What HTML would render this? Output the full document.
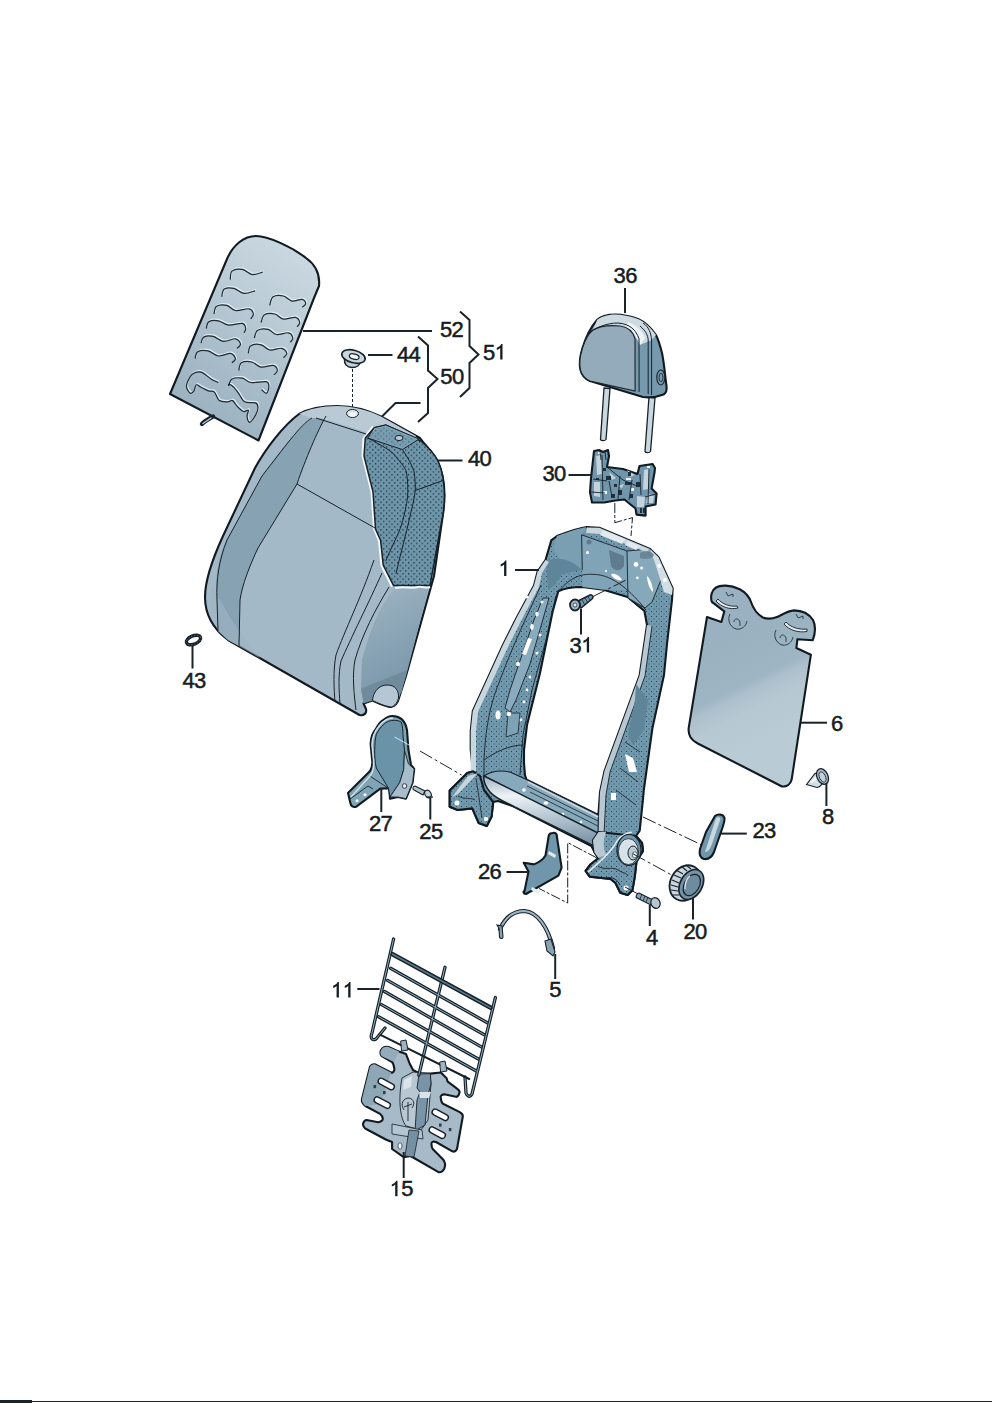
<!DOCTYPE html>
<html><head><meta charset="utf-8">
<style>
html,body{margin:0;padding:0;background:#fff;width:992px;height:1403px;overflow:hidden}
svg{display:block}
.t{font-family:"Liberation Sans",sans-serif;font-size:22px;letter-spacing:-0.6px;fill:#161c22;stroke:#161c22;stroke-width:0.5px}
.one{fill:#161c22}
.ld{stroke:#1b2228;stroke-width:2;fill:none}
.dl{stroke:#1b2228;stroke-width:1;fill:none;stroke-dasharray:14 3 3 3}
.o{stroke:#121a21;stroke-width:2.1;stroke-linejoin:round}
.th{stroke:#17212a;stroke-width:1;fill:none}
</style></head>
<body>
<svg width="992" height="1403" viewBox="0 0 992 1403">
<!--PARTS-->
<defs>
<linearGradient id="gPad" x1="0.7" y1="0" x2="0.2" y2="1">
<stop offset="0" stop-color="#cad8e0"/><stop offset="0.3" stop-color="#bccdd7"/><stop offset="0.6" stop-color="#a9bdca"/><stop offset="1" stop-color="#97afbd"/>
</linearGradient>
<linearGradient id="gBack" x1="0" y1="0" x2="0" y2="1">
<stop offset="0" stop-color="#a9bcc9"/><stop offset="1" stop-color="#a3b8c6"/>
</linearGradient>
<linearGradient id="gSide" x1="0.2" y1="0" x2="0.5" y2="1">
<stop offset="0" stop-color="#9db4c3"/><stop offset="0.5" stop-color="#88a3b4"/><stop offset="1" stop-color="#7593a6"/>
</linearGradient>
<linearGradient id="gPanel" gradientUnits="userSpaceOnUse" x1="723" y1="630" x2="777" y2="738">
<stop offset="0" stop-color="#99b1c0"/><stop offset="0.48" stop-color="#9eb5c3"/><stop offset="0.56" stop-color="#adc1cd"/><stop offset="0.7" stop-color="#b6c8d2"/><stop offset="1" stop-color="#b9cbd5"/>
</linearGradient>
<pattern id="pDots" width="5.5" height="5.5" patternUnits="userSpaceOnUse">
<rect width="5.5" height="5.5" fill="#6e96ab"/><rect x="1" y="1" width="1.1" height="1.4" fill="#0f1c24"/><rect x="3.75" y="3.75" width="1.1" height="1.4" fill="#1d2d37"/>
</pattern>
</defs>

<!-- 52 pad -->
<g id="p52">
<path class="o" stroke-width="2.2" fill="url(#gPad)" d="M170,394 L227,259 C233,245 244,236 256,236 C268,236 292,247 306,258 C316,265 320,275 319,286 L314,298 L258.5,440.5 Z"/>
<path fill="none" stroke="#17212a" stroke-width="4.4" stroke-linecap="round" d="M213,416.5 C209,419 205,421 202,424"/><path fill="none" stroke="#b9cad4" stroke-width="1.4" stroke-linecap="round" d="M211,418 L203,423.5"/>
<g stroke="#e3ecf1" stroke-width="1.3" fill="none" transform="translate(0.8,-1.2)">
<path d="M230.3,279.7 C230.6,278.3 230.0,272.8 232.0,271.1 C234.0,269.4 238.9,268.8 242.3,269.4 C245.7,270.0 249.1,274.2 252.5,274.6 C255.9,275.0 261.1,272.4 262.8,272.0"/>
<path d="M221.7,296.8 C222.1,295.5 222.3,290.5 224.3,289.1 C226.3,287.7 230.4,287.6 233.7,288.3 C237.0,289.0 240.4,293.0 244.0,293.4 C247.6,293.8 253.2,291.2 255.1,290.8"/>
<path d="M214.0,314.0 C214.4,312.7 214.5,307.7 216.6,306.3 C218.7,304.9 223.7,304.7 226.8,305.4 C229.9,306.1 231.7,309.9 235.4,310.5 C239.1,311.1 246.1,308.2 249.1,308.8 C252.1,309.4 253.1,312.3 253.4,314.0 C253.7,315.7 251.2,318.2 250.8,319.1"/>
<path d="M206.3,328.5 C206.7,327.4 206.8,323.0 208.8,321.7 C210.8,320.4 215.0,320.2 218.3,320.8 C221.6,321.4 224.6,324.7 228.6,325.1 C232.6,325.5 239.5,322.8 242.3,323.4 C245.2,324.0 245.4,326.9 245.7,328.5 C246.0,330.1 244.3,332.1 244.0,332.8"/>
<path d="M201.1,343.1 C201.5,342.1 201.7,338.2 203.7,337.1 C205.7,336.0 209.8,335.6 213.1,336.3 C216.4,337.0 219.7,341.0 223.4,341.4 C227.1,341.8 232.6,338.4 235.4,338.8 C238.2,339.2 240.2,342.4 240.5,344.0 C240.8,345.6 237.7,347.6 237.1,348.3"/>
<path d="M195.1,358.5 C195.5,357.4 195.5,353.0 197.7,351.7 C199.8,350.4 204.6,350.1 208.0,350.8 C211.4,351.5 214.6,355.6 218.3,356.0 C222.0,356.4 227.5,353.0 230.3,353.4 C233.2,353.8 235.1,356.9 235.4,358.5 C235.7,360.1 232.6,362.1 232.0,362.8"/>
<path d="M269.7,305.4 C270.3,304.0 270.8,298.4 273.1,296.8 C275.4,295.2 280.2,295.3 283.4,296.0 C286.5,296.7 288.9,300.5 292.0,301.1 C295.1,301.7 299.9,299.0 302.2,299.4 C304.5,299.8 305.7,302.4 305.7,303.7 C305.7,305.0 302.8,306.5 302.2,307.1"/>
<path d="M261.1,322.5 C261.7,321.2 262.2,316.2 264.5,314.8 C266.8,313.4 271.7,313.3 274.8,314.0 C277.9,314.7 280.0,318.5 283.4,319.1 C286.8,319.7 292.7,316.8 295.4,317.4 C298.1,318.0 299.4,320.9 299.7,322.5 C300.0,324.1 297.5,326.1 297.1,326.8"/>
<path d="M254.3,338.0 C254.9,336.7 255.4,331.7 257.7,330.3 C260.0,328.9 264.9,328.7 268.0,329.4 C271.1,330.1 273.1,333.9 276.5,334.5 C279.9,335.1 285.8,332.2 288.5,332.8 C291.2,333.4 292.5,336.4 292.8,338.0 C293.1,339.6 290.7,341.6 290.3,342.3"/>
<path d="M248.3,353.4 C248.7,352.1 248.7,347.1 250.8,345.7 C252.9,344.3 258.0,344.1 261.1,344.8 C264.2,345.5 266.3,349.4 269.7,350.0 C273.1,350.6 278.8,347.7 281.7,348.3 C284.6,348.9 286.5,351.8 286.8,353.4 C287.1,355.0 284.0,357.0 283.4,357.7"/>
<path d="M238.8,370.5 C239.2,369.2 239.2,364.2 241.4,362.8 C243.6,361.4 248.4,361.3 251.7,362.0 C255.0,362.7 257.5,366.5 261.1,367.1 C264.7,367.7 270.4,364.8 273.1,365.4 C275.8,366.0 277.2,368.9 277.4,370.5 C277.5,372.1 274.6,374.1 274.0,374.8"/>
<path d="M218.3,382.5 C217.2,381.9 214.3,380.9 211.4,379.2 C208.5,377.5 204.2,373.1 201.1,372.2 C198.0,371.3 194.9,372.4 192.6,374.0 C190.3,375.6 188.5,379.8 187.5,382.0 C186.5,384.2 186.2,385.4 186.6,387.3 C187.0,389.2 189.0,392.7 190.2,393.3 C191.4,393.9 192.9,392.3 193.9,390.9 C194.9,389.5 195.1,385.4 196.3,384.8 C197.5,384.2 199.1,386.3 201.1,387.3 C203.1,388.3 206.2,390.1 208.4,390.9 C210.6,391.7 212.6,390.5 214.4,392.1 C216.2,393.7 217.1,399.0 219.3,400.6 C221.5,402.2 225.5,401.8 227.7,401.8 C229.9,401.8 231.0,399.8 232.6,400.6 C234.2,401.4 235.6,404.8 237.4,406.6 C239.2,408.4 241.7,410.9 243.5,411.5 C245.3,412.1 247.7,409.4 248.3,410.2 C248.9,411.0 246.9,414.3 247.1,416.3 C247.3,418.3 248.1,422.5 249.5,422.3 C250.9,422.1 254.2,417.5 255.6,415.1 C257.0,412.7 258.0,409.8 258.0,407.8 C258.0,405.8 257.8,403.9 255.6,402.9 C253.4,401.9 247.5,403.4 244.7,401.8 C241.9,400.2 240.4,395.7 238.6,393.3 C236.8,390.9 235.4,388.9 233.8,387.3 C232.2,385.8 229.9,384.2 229.0,384.0 C228.1,383.8 228.7,385.7 228.6,386.0"/>
<path d="M228.6,386.0 C229.2,384.9 229.7,380.4 232.0,379.1 C234.3,377.8 239.2,377.6 242.3,378.2 C245.4,378.8 246.8,381.9 250.8,382.5 C254.8,383.1 263.3,380.9 266.3,381.7 C269.3,382.5 268.9,385.4 268.9,387.3 C268.9,389.2 267.6,392.9 266.4,393.3 C265.2,393.7 262.4,390.3 261.6,389.7"/>
</g>
<g stroke="#1d2a33" stroke-width="1.2" fill="none">
<path d="M230.3,279.7 C230.6,278.3 230.0,272.8 232.0,271.1 C234.0,269.4 238.9,268.8 242.3,269.4 C245.7,270.0 249.1,274.2 252.5,274.6 C255.9,275.0 261.1,272.4 262.8,272.0"/>
<path d="M221.7,296.8 C222.1,295.5 222.3,290.5 224.3,289.1 C226.3,287.7 230.4,287.6 233.7,288.3 C237.0,289.0 240.4,293.0 244.0,293.4 C247.6,293.8 253.2,291.2 255.1,290.8"/>
<path d="M214.0,314.0 C214.4,312.7 214.5,307.7 216.6,306.3 C218.7,304.9 223.7,304.7 226.8,305.4 C229.9,306.1 231.7,309.9 235.4,310.5 C239.1,311.1 246.1,308.2 249.1,308.8 C252.1,309.4 253.1,312.3 253.4,314.0 C253.7,315.7 251.2,318.2 250.8,319.1"/>
<path d="M206.3,328.5 C206.7,327.4 206.8,323.0 208.8,321.7 C210.8,320.4 215.0,320.2 218.3,320.8 C221.6,321.4 224.6,324.7 228.6,325.1 C232.6,325.5 239.5,322.8 242.3,323.4 C245.2,324.0 245.4,326.9 245.7,328.5 C246.0,330.1 244.3,332.1 244.0,332.8"/>
<path d="M201.1,343.1 C201.5,342.1 201.7,338.2 203.7,337.1 C205.7,336.0 209.8,335.6 213.1,336.3 C216.4,337.0 219.7,341.0 223.4,341.4 C227.1,341.8 232.6,338.4 235.4,338.8 C238.2,339.2 240.2,342.4 240.5,344.0 C240.8,345.6 237.7,347.6 237.1,348.3"/>
<path d="M195.1,358.5 C195.5,357.4 195.5,353.0 197.7,351.7 C199.8,350.4 204.6,350.1 208.0,350.8 C211.4,351.5 214.6,355.6 218.3,356.0 C222.0,356.4 227.5,353.0 230.3,353.4 C233.2,353.8 235.1,356.9 235.4,358.5 C235.7,360.1 232.6,362.1 232.0,362.8"/>
<path d="M269.7,305.4 C270.3,304.0 270.8,298.4 273.1,296.8 C275.4,295.2 280.2,295.3 283.4,296.0 C286.5,296.7 288.9,300.5 292.0,301.1 C295.1,301.7 299.9,299.0 302.2,299.4 C304.5,299.8 305.7,302.4 305.7,303.7 C305.7,305.0 302.8,306.5 302.2,307.1"/>
<path d="M261.1,322.5 C261.7,321.2 262.2,316.2 264.5,314.8 C266.8,313.4 271.7,313.3 274.8,314.0 C277.9,314.7 280.0,318.5 283.4,319.1 C286.8,319.7 292.7,316.8 295.4,317.4 C298.1,318.0 299.4,320.9 299.7,322.5 C300.0,324.1 297.5,326.1 297.1,326.8"/>
<path d="M254.3,338.0 C254.9,336.7 255.4,331.7 257.7,330.3 C260.0,328.9 264.9,328.7 268.0,329.4 C271.1,330.1 273.1,333.9 276.5,334.5 C279.9,335.1 285.8,332.2 288.5,332.8 C291.2,333.4 292.5,336.4 292.8,338.0 C293.1,339.6 290.7,341.6 290.3,342.3"/>
<path d="M248.3,353.4 C248.7,352.1 248.7,347.1 250.8,345.7 C252.9,344.3 258.0,344.1 261.1,344.8 C264.2,345.5 266.3,349.4 269.7,350.0 C273.1,350.6 278.8,347.7 281.7,348.3 C284.6,348.9 286.5,351.8 286.8,353.4 C287.1,355.0 284.0,357.0 283.4,357.7"/>
<path d="M238.8,370.5 C239.2,369.2 239.2,364.2 241.4,362.8 C243.6,361.4 248.4,361.3 251.7,362.0 C255.0,362.7 257.5,366.5 261.1,367.1 C264.7,367.7 270.4,364.8 273.1,365.4 C275.8,366.0 277.2,368.9 277.4,370.5 C277.5,372.1 274.6,374.1 274.0,374.8"/>
<path d="M218.3,382.5 C217.2,381.9 214.3,380.9 211.4,379.2 C208.5,377.5 204.2,373.1 201.1,372.2 C198.0,371.3 194.9,372.4 192.6,374.0 C190.3,375.6 188.5,379.8 187.5,382.0 C186.5,384.2 186.2,385.4 186.6,387.3 C187.0,389.2 189.0,392.7 190.2,393.3 C191.4,393.9 192.9,392.3 193.9,390.9 C194.9,389.5 195.1,385.4 196.3,384.8 C197.5,384.2 199.1,386.3 201.1,387.3 C203.1,388.3 206.2,390.1 208.4,390.9 C210.6,391.7 212.6,390.5 214.4,392.1 C216.2,393.7 217.1,399.0 219.3,400.6 C221.5,402.2 225.5,401.8 227.7,401.8 C229.9,401.8 231.0,399.8 232.6,400.6 C234.2,401.4 235.6,404.8 237.4,406.6 C239.2,408.4 241.7,410.9 243.5,411.5 C245.3,412.1 247.7,409.4 248.3,410.2 C248.9,411.0 246.9,414.3 247.1,416.3 C247.3,418.3 248.1,422.5 249.5,422.3 C250.9,422.1 254.2,417.5 255.6,415.1 C257.0,412.7 258.0,409.8 258.0,407.8 C258.0,405.8 257.8,403.9 255.6,402.9 C253.4,401.9 247.5,403.4 244.7,401.8 C241.9,400.2 240.4,395.7 238.6,393.3 C236.8,390.9 235.4,388.9 233.8,387.3 C232.2,385.8 229.9,384.2 229.0,384.0 C228.1,383.8 228.7,385.7 228.6,386.0"/>
<path d="M228.6,386.0 C229.2,384.9 229.7,380.4 232.0,379.1 C234.3,377.8 239.2,377.6 242.3,378.2 C245.4,378.8 246.8,381.9 250.8,382.5 C254.8,383.1 263.3,380.9 266.3,381.7 C269.3,382.5 268.9,385.4 268.9,387.3 C268.9,389.2 267.6,392.9 266.4,393.3 C265.2,393.7 262.4,390.3 261.6,389.7"/>
</g>
</g>
<!-- 40 seat back -->
<g id="p40">
<path class="o" fill="#a4b9c7" d="M337,406 C322,406 308,409 299,414 C284,425 266,448 255,468 L223,536 C212,560 205,580 205,597 C205,614 212,628 228,640 L359.5,715 C364,716 367,713 366,709 L363.5,703.5 L372.5,700.5 C380,704 386,707 391,707 C396,706 398,702 399,698 L406,676 L434,576 L443,514 C446,494 444,474 437,460 C431,450 425,445 420,438 L382,417 C368,410 353,406 337,406 Z"/>
<!-- left bolster darker -->
<path fill="#87a2b3" d="M318,415 C300,425 282,448 262,476 L226,541 C217,560 215,580 217,600 L218,631 L228,640 L239,646 L240,600 C242,585 250,565 258,548 L297,484 C305,460 318,430 326,416 Z"/>
<path fill="#9fb4c2" d="M212,585 C208,610 212,628 228,640 L260,658 C245,640 230,620 212,585 Z" opacity="0.6"/>
<!-- light top band -->
<path fill="#b9cad4" d="M299,414 C308,409 322,406 337,406 C353,406 368,410 382,417 L416,436 L410,452 C395,444 370,432 340,424 C330,420 320,418 312,418 Z"/>
<!-- right bolster -->
<path fill="url(#gSide)" d="M394,589 L429,587 L406,676 L399,698 C398,702 396,706 391,707 L372.5,700.5 L361,689 L362,660 C370,630 380,605 394,589 Z"/>
<path fill="#6f8b9c" d="M361,689 C375,682 395,676 407,670 L401,694 C397,686 388,684 380,688 C374,692 372,698 372.5,700.5 L363.5,703.5 Z"/>
<path fill="#b5c7d2" stroke="#17212a" stroke-width="1" d="M372.5,700.5 C373,692 379,685 387,685 C395,685 399,690 398.5,698 C397,704 393,707 391,707 C384,706 378,703 372.5,700.5 Z"/>
<!-- mesh area -->
<path fill="#f4f8fa" d="M372,426 L362.5,438 L361.5,456 L365.5,472 L370.5,492 L373,529 L378,541 L380.5,566 L391,587 L396,585 L386,565 L383,540 L378,528 L376,491 L371,471 L367,456 L368,439 L376,429 Z"/>
<path fill="url(#pDots)" stroke="#17212a" stroke-width="1.5" d="M374.2,427.7 L385.8,425 L421,441 C428,447 434,453 438,461 C444,474 446,494 443,514 L430,585.4 L393.5,585.4 L383.2,565 L380.6,540.5 L375.5,529 L373,491.8 L367.8,471.3 L364,456 L365.3,438 Z"/>
<path fill="#82a6b8" stroke="#17212a" stroke-width="1" d="M367.8,438 L374.2,427.7 L385.8,425 L419,439 L402.4,449.5 Z"/>
<path fill="url(#pDots)" d="M369,437 L375,429 L385.8,427 L416,439.5 L402,447.5 Z" opacity="0.55"/>
<path stroke="#17212a" stroke-width="1" fill="none" d="M367.8,438 C380,445 392,450 397.3,458.5 C403,465 406,470 406.3,471.3 C408,480 408,490 407.6,497 C405,515 401,528 397.3,535.4 C393,545 388,555 385.8,561 M402.4,449.5 C408,458 412,465 414,471.3 C415,478 415.5,485 415.3,490.5 C414,500 412,508 410.1,516 C406,535 400,555 396,573.8 M415.3,490.5 L443.5,480.3"/>
<path fill="none" stroke="#f2f6f8" stroke-width="2" d="M395,588 C405,586 412,589 418,587 C422,586 426,589 430,587"/>
<ellipse cx="352.5" cy="413.5" rx="6" ry="4" fill="#dbe6ec" stroke="#17212a" stroke-width="1"/>
<ellipse cx="352.5" cy="414.5" rx="3.5" ry="2.2" fill="#f4f8fa"/>
<ellipse cx="399" cy="438" rx="4" ry="2.6" fill="#b8c9d3" stroke="#17212a" stroke-width="1"/>
<!-- seams -->
<g stroke="#17212a" stroke-width="1" fill="none">
<path d="M312,418 C300,425 284,448 262,476 L227,540 C219,560 216,580 217,600 L218,631"/>
<path d="M326,416 C318,430 305,460 297,484 L258,548 C250,565 242,585 240,600 L239,646"/>
<path d="M297,484 L375,528"/>
<path d="M316,418 L366,434"/>
<path d="M374,560 C360,600 345,630 336,655 C333,670 334,690 335,702"/>
<path d="M382,573 C370,600 350,640 341,661 C338,675 339,690 340,704"/>
<path d="M389,587 C375,610 362,635 355,660 C352,675 354,695 356,710"/>
</g>
</g>
<!-- 44 washer, 43 ring -->
<g id="p44">
<path fill="none" stroke="#17212a" stroke-width="1" stroke-dasharray="3 2" d="M352.5,369 V408"/>
<path fill="#c3d2da" stroke="#17212a" stroke-width="1.5" d="M344.5,359 C344,364 347,367.5 352,367.5 C357,367.5 360,365 360.5,361 Z"/>
<ellipse cx="353.5" cy="356.5" rx="12" ry="6.3" transform="rotate(15 353.5 356.5)" fill="#c9d6de" stroke="#17212a" stroke-width="1.6"/>
<ellipse cx="354.2" cy="356.6" rx="5" ry="2.6" transform="rotate(15 354.2 356.6)" fill="#eef3f6" stroke="#17212a" stroke-width="1.2"/>
</g>
<g id="p43">
<ellipse cx="193.5" cy="640" rx="7.5" ry="4.2" transform="rotate(-22 193.5 640)" fill="none" stroke="#17212a" stroke-width="3.4"/>
<ellipse cx="193.5" cy="640" rx="7.5" ry="4.2" transform="rotate(-22 193.5 640)" fill="none" stroke="#6f8a9b" stroke-width="0.8" stroke-dasharray="1 2"/>
</g>
<!-- 36 headrest -->
<g id="p36">
<path fill="#c9d7df" stroke="#17212a" stroke-width="1.3" d="M604,388 L610,388.5 L606,439.5 C605,441 601,441 600.5,439.5 Z"/>
<path fill="#c9d7df" stroke="#17212a" stroke-width="1.3" d="M649,397 L655,398 L650.5,451.5 C649.5,453 645.5,453 645,451.5 Z"/>
<path class="o" fill="#7799ad" stroke-width="2" d="M615.5,314.5 C607,314.5 600,317 597,320 C590,328 585,340 582.5,348 C580,356 579,364 580.5,370 C582,376 585,379 590,381 L643,397 C650,398 657,397 663.5,394.5 C666.5,393 667,390 666.5,386 C665,375 664,362 662,353 C660,345 658.5,340 656,335 C651,328 645,322 638,319 C630,316 622,314.5 615.5,314.5 Z"/>
<path fill="#cddae2" d="M597,320 C600,317 607,314.5 615.5,314.5 C622,314.5 630,316 638,319 C645,322 651,328 656,335 L651.6,340 L640,345 C636,336 630,330 620,327 C610,325 600,326 593,330 Z"/>
<path fill="#eef3f6" d="M628,322 C636,325 642,330 645,338 L640,345 C637,337 633,331 626,327 Z"/>
<path fill="#93abbb" stroke="#17212a" stroke-width="1.1" d="M593,330 C600,326 610,325 620,326 C628,327 633,331 635,338.8 L635.1,391 L590,381 C585,379 582,376 580.5,370 C579,364 580,356 582.5,348 C585,340 588,334 593,330 Z"/>
<path fill="none" stroke="#17212a" stroke-width="1" d="M587,334 C595,328 606,323 618,323 C630,324 636,330 639,338.8 L639.1,392 M640,326 C645,330 648,335 648.2,340 L648.2,394 M643,323 C649,327 651,333 651.6,340 L651.6,395"/>
<ellipse cx="660.8" cy="377.5" rx="4" ry="7.5" fill="#7a9aae" stroke="#17212a" stroke-width="1.1"/>
<ellipse cx="661" cy="377.5" rx="2" ry="4.2" fill="none" stroke="#17212a" stroke-width="0.9"/>
</g>
<!-- 30 guide -->
<g id="p30">
<path fill="none" stroke="#17212a" stroke-width="1" stroke-dasharray="10 2 3 2" d="M614.8,503 V522.7 L632.5,517.6 L631,536"/>
<path class="o" fill="#6f96ab" stroke-width="1.8" d="M594,451 L599,450 L603,452 L608,450 L609,456 L607,467 L623,469 L637.5,474 L639.5,466 L646,465 L652.6,464 L655,468 L654.6,472 L651.6,488.4 L656.6,493.4 L655.6,504.5 L645.6,506.5 L645.6,515.6 L636.5,514.6 L635.5,508.5 L624.4,499.5 L615.3,500.5 L604.2,502.5 L592,502.5 L590,492.4 L591,478.3 L593,460 Z"/>
<g fill="#c5d4dc">
<path d="M596,456 L601,455 L602,474 L597,475 Z"/><path d="M594,482 L600,482 L600,497 L594,496 Z"/>
<path d="M644,470 L649,469 L648,489 L643,490 Z"/><path d="M648,494 L654,496 L653,503 L646,503 Z"/>
<path d="M637,496 L645,497 L644,507 L637,507 Z"/>
<path d="M609,472 L616,478 L612,480 Z"/><path d="M618,486 L624,484 L622,488 Z"/><path d="M627,470 L635,475 L630,477 Z"/>
</g>
<g fill="#eef3f6"><rect x="603" y="491" width="4" height="3"/><rect x="626" y="478" width="5" height="2"/><rect x="631" y="488" width="3" height="3"/><rect x="598" y="452" width="3" height="2"/><rect x="647" y="466" width="3" height="2"/></g>
<g fill="#1d303c">
<rect x="606" y="476" width="5" height="4"/><rect x="618" y="490" width="4" height="5"/><rect x="625" y="482" width="6" height="3"/><rect x="611" y="494" width="4" height="4"/><rect x="636" y="482" width="4" height="5"/><rect x="603" y="468" width="3" height="3"/><rect x="628" y="472" width="3" height="4"/><rect x="640" y="508" width="2" height="5"/><rect x="643" y="508" width="2" height="5"/><rect x="614" y="484" width="3" height="3"/><rect x="630" y="494" width="3" height="4"/><rect x="596" y="478" width="3" height="2"/>
</g>
<path fill="none" stroke="#17212a" stroke-width="0.9" d="M602,455 L603,500 M649,469 L648,504 M607,467 L623,480 L637,486 M593,479 L607,481 M591,492 L605,493 M609,481 L612,497 M620,476 L618,499 M632,480 L629,500 M640,474 L641,495 M645,497 L656,494 M600,451 L601,460 M605,451 L606,460"/>
</g>
<!-- 1 frame -->
<defs>
<linearGradient id="gTube" x1="0" y1="0" x2="0.12" y2="1">
<stop offset="0" stop-color="#9cb2c0"/><stop offset="0.3" stop-color="#eef3f6"/><stop offset="0.55" stop-color="#c3d2db"/><stop offset="1" stop-color="#7d97a9"/>
</linearGradient>
<pattern id="pFr" width="5" height="5" patternUnits="userSpaceOnUse">
<rect width="5" height="5" fill="#7199ae"/><rect x="1" y="1" width="1" height="1" fill="#2c4552"/><rect x="3.5" y="3.5" width="1" height="1" fill="#3b5663"/>
</pattern>
</defs>
<g id="p1">
<path class="o" fill="url(#pFr)" fill-rule="evenodd" d="M551.3,540.4 L557,536 C570,531 580,528 586.6,527 L599.3,527.7 L650,548.9 L658.5,557.3 L672.7,588.4 L672,600 L667,644 L664,675 L652.4,728.4 L643.8,790 L642.9,800 L639.7,830.6 L636,836 L642,843 L643,851 L636.5,861.3 L634.8,876.6 L632.4,890.3 L627.6,895 L620.3,892.7 L615.5,883 L610.6,879 L589.7,876.6 L585.6,871 L590.5,864.5 L598.5,858 L594.5,852 L591.4,846 L513.7,806.5 L498,801 L493.2,802 L491.6,816.5 L486.8,826 L478.7,823 L472.3,808.4 L457.7,810 L449.7,806.8 L449.7,790.6 L467.4,773 L473,771.3 L470.7,750 L470.7,731 L472.8,711 L502.7,645.5 L517,617 L534,585.6 L537.6,571.4 L545.5,560 Z M558.3,591.2 C565,588 575,587 582.3,587 L603.5,589.8 L627.5,596.9 L644.4,611 L647,625 L639.7,675 L604.5,771 L600,792 L598.4,815 L526.5,779.6 L525,775.4 L524,763 L524,750 L527,725 L539.8,674 L552.6,611.8 Z"/>
<!-- top plate -->
<path fill="#80a4b7" d="M581.6,534.8 L627,551 L628,590 L603.5,589.8 L582.3,587 L582.3,570 Z"/>
<path fill="#7a9fb3" d="M557,536 C570,531 580,528 586.6,527 L581.6,534.8 L582.3,570 L560,560 L553,548 Z"/>
<path fill="#5f7b8d" d="M609,550 L624,556 L624,566 C620,572 614,571 611,566 Z"/>
<path fill="#ffffff" d="M611,574 C615,573 620,576 622,580 C618,581 613,579 611,574 Z"/>
<path fill="#85a8ba" stroke="#17212a" stroke-width="0.9" d="M627,551 L650,548.9 L658.5,557.3 L663,575 L652,602 L645,608 L628,598 Z"/>
<path fill="#d2dee5" d="M650,548.9 L658.5,557.3 L672.7,588.4 L672,595 L664,592 L656,566 Z"/>
<path fill="#c9d7df" d="M587,527.5 L599.3,527.7 L650,548.9 L646,552 L600,534 L586,533 Z"/>
<path fill="#e2eaef" d="M603,530 L625,539 L622,544 L600,535 Z M628,541 L640,546 L636,550 L625,545 Z"/>
<path fill="#698699" d="M640,553 C645,550 652,551 654,555 C652,559 646,560 640,558 Z"/>
<g fill="#ffffff"><circle cx="636" cy="564.4" r="2.3"/><circle cx="641.6" cy="568" r="1.5"/><circle cx="637.4" cy="577.8" r="1.4"/><path d="M647,576 C650,578 653,586 653,592 C650,590 647,582 647,576 Z"/><circle cx="659" cy="566" r="2"/><circle cx="665" cy="580" r="2"/><circle cx="587.5" cy="552.5" r="1.5"/><circle cx="606" cy="571" r="1"/></g>
<circle cx="589" cy="542" r="2.5" fill="#5f7b8d"/>
<path fill="none" stroke="#17212a" stroke-width="0.9" d="M581.6,534.8 L582.3,570 M581.6,534.8 L627,551 M558,592 C570,578 580,572 600,575 C615,578 630,590 646,610"/>
<!-- left member: dark inner flange top-left -->
<path fill="#5f8599" d="M546,562 C555,556 570,558 582,570 L562,574 L555,585 L548,590 Z"/>
<!-- left outer light rim -->
<path fill="#c8d6de" d="M545.5,560 L537.6,571.4 L534,585.6 L517,617 L502.7,645.5 L472.8,711 L470.7,731 L470.7,771 L476,771 L476,732 L478,712 L508,647 L522,619 L539,587 L542,573 L549,562 Z"/>
<!-- left member channel light panel -->
<path fill="#8aabbd" stroke="#17212a" stroke-width="0.9" d="M549,598 L541,626 L530,664 L516,700 L510,712 L505,708 L510,690 L522,655 L534,620 L543,598 Z"/>
<path fill="none" stroke="#17212a" stroke-width="0.9" d="M556,596 L546,640 L532,690 L523,735 L520,775 M541,585 C530,610 515,640 500,680 C492,700 486,720 484,760 L484,776 M484,760 C495,752 510,745 523,745"/>
<path fill="#7ea2b5" stroke="#17212a" stroke-width="0.8" d="M508,713 L520,713 L518,733 L506,737 Z"/>
<!-- right member light inner rim -->
<path fill="#b8c8d2" d="M647,625 L639.7,675 L604.5,771 L600,792 L598.4,832 L604,834 L606,795 L610,772 L645,676 L652,626 Z"/>
<path fill="none" stroke="#17212a" stroke-width="0.9" d="M652,626 L645,676 L610,772 L606,795 L604,834"/>
<path fill="#5f8599" d="M636,684 L648,700 L644,730 L633,745 L628,735 L635,700 Z"/>
<path fill="#ffffff" d="M625,754 L633,758 L637,772 L629,772 Z"/>
<rect x="611" y="793" width="5" height="7" fill="#ffffff"/>
<path fill="none" stroke="#17212a" stroke-width="0.8" d="M625,742 L640,752 M620,768 L638,782 M616,790 L636,805"/>
<!-- holes left member -->
<g fill="#ffffff">
<circle cx="542" cy="602" r="1.5"/><ellipse cx="537" cy="614" rx="1.7" ry="2.5"/><ellipse cx="532" cy="627" rx="1.7" ry="3"/><path d="M528,638 L532,639 L526,655 L522,654 Z"/>
<ellipse cx="518" cy="664" rx="2" ry="2.3"/><ellipse cx="498" cy="715" rx="2.5" ry="4.5"/><circle cx="509" cy="714" r="2.2"/>
<circle cx="531" cy="580" r="1.6"/><circle cx="527" cy="597" r="1.5"/><circle cx="540" cy="635" r="1.5"/><circle cx="537" cy="653" r="1.5"/><circle cx="530" cy="677" r="1.5"/><circle cx="527" cy="690" r="1.4"/><circle cx="524" cy="702" r="1.4"/><circle cx="521" cy="720" r="1.4"/>
</g>
<!-- rail -->
<path fill="#86a9bb" stroke="#17212a" stroke-width="1.1" d="M526.5,779.6 L598.4,815 L598,834 L484,776 C490,772 500,770 510,772 Z"/>
<path fill="none" stroke="#c9d7df" stroke-width="1.6" d="M528,782 L598,817"/><path fill="none" stroke="#17212a" stroke-width="0.8" d="M527,786 L598,821 M530,792 L598,826"/>
<g fill="#ffffff"><circle cx="524" cy="790" r="1.8"/><ellipse cx="546" cy="803" rx="2.5" ry="1.8"/><circle cx="563" cy="814" r="1.3"/><circle cx="581" cy="822" r="1.3"/></g>
<!-- tube -->
<path fill="url(#gTube)" stroke="#17212a" stroke-width="1.5" d="M484,776 L598,833 L597,847.5 L513.7,806.5 C505,802 495,798 490,792 C486,787 483,781 484,776 Z"/>
<!-- left bracket -->
<path class="o" fill="url(#pFr)" stroke-width="1.5" d="M473,771.3 L467.4,773 L449.7,790.6 L449.7,806.8 L457.7,810 L472.3,808.4 L478.7,823 L486.8,826 L491.6,816.5 L493.2,802 L484,790 L480,776 Z"/>
<path fill="#c8d6de" d="M468,776 L478,773 L458,794 L452,797 Z"/>
<path fill="none" stroke="#17212a" stroke-width="0.8" d="M458,796 C465,800 470,797 475,800 M476,778 L482,818"/>
<circle cx="457" cy="803" r="2.5" fill="#fff"/><circle cx="486" cy="819" r="2.2" fill="#fff"/>
<!-- right bracket lower -->
<path class="o" fill="url(#pFr)" stroke-width="1.5" d="M598.5,832 L636,836 L642,843 L643,851 L636.5,861.3 L634.8,876.6 L632.4,890.3 L627.6,895 L620.3,892.7 L615.5,883 L610.6,879 L589.7,876.6 L585.6,871 L590.5,864.5 L598.5,858 L594.5,852.4 L592.9,840.3 Z"/>
<path fill="#b9c9d3" d="M598.5,832 L606,832 C603,840 603,848 606,855 L598.5,858 L594.5,852.4 L592.9,840.3 Z"/>
<path fill="none" stroke="#e0e9ee" stroke-width="1.6" d="M588,872 C600,862 608,855 614,846 C618,838 624,833 632,832"/>
<path fill="none" stroke="#17212a" stroke-width="0.9" d="M598,866 C604,871 612,866 618,870 C624,874 626,872 628,876 M606,878 C612,876 618,880 620,885"/>
<circle cx="626" cy="888" r="2.5" fill="#fff"/>
<ellipse cx="629" cy="850" rx="12" ry="15.5" fill="#7096ab" stroke="#17212a" stroke-width="1.2"/>
<ellipse cx="628.4" cy="851.6" rx="10" ry="13" fill="#d8e3e9" stroke="#17212a" stroke-width="0.8"/>
<ellipse cx="633" cy="853" rx="5" ry="7" fill="#b9c9d3" stroke="#17212a" stroke-width="1"/>
<ellipse cx="634.8" cy="854.8" rx="2.5" ry="3" fill="#eef3f6" stroke="#17212a" stroke-width="0.6"/>
</g>
<!-- 31 screw -->
<g id="p31">
<path class="dl" d="M593,596.5 L625.5,580.3"/>
<path fill="#7096ab" stroke="#17212a" stroke-width="1.4" d="M578,601 L590,595 C592,594 594,597 592,599 L581,608 Z"/>
<g stroke="#17212a" stroke-width="0.8"><path d="M582,600 L585,605 M585,598 L588,603 M588,597 L591,601"/></g>
<ellipse cx="575" cy="605" rx="5" ry="5.5" fill="#9fb8c6" stroke="#17212a" stroke-width="1.8"/>
<ellipse cx="575" cy="605" rx="2" ry="2" fill="#e6eef2" stroke="#17212a" stroke-width="0.7"/>
</g>
<!-- 6 panel -->
<g id="p6">
<path class="o" fill="url(#gPanel)" d="M707,617 L721.4,622 L724.3,611.4 L711.8,601.8 C710,596 712,590 716,587.5 C720,585 730,584.5 739.7,589.2 C745,592 749,596 751,602 C753,608 757,614 762.8,617.5 C768,619.5 772,619 777,617 C782,615 787,611 794,610.4 C802,610.5 809,614 813,620 C816,626 815,634 812.8,640.2 L797.4,639.3 L796.4,648 L810.9,654.7 L791.6,779.8 C790.5,784 787,787 782,786.5 L697.3,743.2 C691,740 688,734 688.7,727.8 Z"/>
<path fill="#e1eaef" stroke="#17212a" stroke-width="0.9" d="M718,599 C722,604 730,607 737,606 L738,608 C730,610 721,607 716,601 Z"/>
<path fill="#e1eaef" stroke="#17212a" stroke-width="0.9" d="M786,622 C790,627 799,630 807,629 L807,631.5 C798,633 789,630 784,624 Z"/>
<g fill="none" stroke="#24343f" stroke-width="0.9">
<path d="M730,614 C727,620 730,627 736,629 C742,630 746,626 747,621 M734,622 C734,618 739,618 740,622 L740,626 M726,592 L728,596 L733,594 L733,597"/>
<path d="M776,630 C773,636 776,643 782,645 C788,646 792,642 793,637 M780,638 C780,634 785,634 786,638 L786,642 M796,614 L798,618 L803,616 L803,619"/>
</g>
</g>
<!-- 8 clip -->
<g id="p8">
<path fill="#d3dfe6" stroke="#17212a" stroke-width="1.2" d="M806.5,784.5 L815,773.5 C818,772 822,775 823,780 C823,784 820,787 817,787.5 Z"/>
<path fill="#f2f6f8" d="M810,782 L816,776 L818,779 L812,783 Z"/>
<ellipse cx="822.5" cy="776.5" rx="5.5" ry="8.2" transform="rotate(-25 822.5 776.5)" fill="#a9bdc9" stroke="#17212a" stroke-width="1.3"/>
<ellipse cx="822.5" cy="777" rx="3" ry="5.5" transform="rotate(-25 822.5 777)" fill="#c3d2da" stroke="#17212a" stroke-width="0.8"/>
</g>
<!-- 27 -->
<g id="p27">
<path class="o" fill="#7fa4b6" d="M392.4,716 C396,716 399,717 401.3,718.9 C404,721 406,725 407,730 L408.5,750.3 L411,764.8 L414.2,768.9 L412.6,782.6 L406,798.7 L398,797 L390,798.7 L389.2,788.2 L380.3,788.6 L356,806.8 C353,807.5 351,806 350.5,803.5 L348,793 L369.8,771.3 C371.5,769 372.5,765 372.3,761.6 L370.6,743.9 C371,737 373,732 375.5,729.4 C378,725 380,722 382.7,720.5 C386,717.5 389,716 392.4,716 Z"/>
<path fill="#6a93a8" stroke="#17212a" stroke-width="1" d="M376.3,734.2 C380,727 386,721 391.6,720.5 C395,720 399,720.5 401.3,722.1 C402.5,726 403,730 402.9,734.2 L404.5,750.3 L403.7,769.7 L399.7,782.6 L390,797 L388.4,788.2 L376.3,768 C375,762 374.5,756 374.7,750.3 C374.8,744 375.3,738 376.3,734.2 Z"/>
<path fill="#a7bdca" stroke="#17212a" stroke-width="0.9" d="M404.5,750.3 L408.5,764 L414.2,768.9 L412.6,782.6 L406,798.7 L398,797 L390,797 L399.7,782.6 L403.7,769.7 Z"/>
<circle cx="404.5" cy="786" r="2.3" fill="#e2eaef" stroke="#17212a" stroke-width="0.8"/>
<path fill="none" stroke="#d3dfe6" stroke-width="1.5" d="M351,797 L370,776 C373,773 374,768 373.5,760 L372,745 C372,737 375,731 379,726 C383,721 388,718 393,718"/>
<path fill="none" stroke="#17212a" stroke-width="0.9" d="M370.6,776.5 L388,788 M350,799 L368,786 L373,789"/>
<circle cx="357" cy="800.7" r="1.5" fill="#fff"/><circle cx="365" cy="794.7" r="1.5" fill="#fff"/>
<path fill="none" stroke="#f2f6f8" stroke-width="0.8" d="M394.5,737 L420,751"/>
<path class="dl" d="M420,751 L461.5,775"/>
</g>
<!-- 25 screw -->
<g id="p25">
<path fill="#b2c4ce" stroke="#17212a" stroke-width="1.1" d="M415,786 L425,791 L423,795 L414,790 C412,789 413,786 415,786 Z"/>
<ellipse cx="428" cy="794" rx="3" ry="4" transform="rotate(-30 428 794)" fill="#c5d4dc" stroke="#17212a" stroke-width="1.1"/>
<path fill="none" stroke="#17212a" stroke-width="1.2" d="M427,797 L433,797"/>
</g>
<!-- 23 handle -->
<g id="p23">
<path class="dl" d="M643,817 L701,844.6"/>
<path class="o" fill="#7096ab" d="M715,816 C718,813.5 723,814 724.5,818 C725,821 723,826 721,832 L714,852 C712,857 708,859.5 704,859 C700,858 699,854 700,849 L706,832 Z"/>
<path fill="#c9d7df" d="M716,818 C718,816.5 720,817 720.5,819 L712,844 C710,849 708,852 705,852 Z"/>
</g>
<!-- 20 knob -->
<g id="p20">
<path class="dl" d="M632.8,853.7 L673.4,876"/>
<ellipse cx="685.5" cy="883" rx="15" ry="18.5" transform="rotate(30 685.5 883)" fill="#c9d6de" stroke="#17212a" stroke-width="1.8"/>
<g stroke="#17212a" stroke-width="1.1"><path d="M676,870 L683,874 M674,875 L681,878 M672,880 L679,883 M671,885 L678,887 M671,890 L678,891 M672,895 L679,895 M681,866 L687,871 M686,865 L691,869"/></g>
<ellipse cx="691.3" cy="884.5" rx="11" ry="16" transform="rotate(30 691.3 884.5)" fill="#7593a6" stroke="#17212a" stroke-width="1.6"/>
<ellipse cx="691.8" cy="885" rx="7.5" ry="11.5" transform="rotate(30 691.8 885)" fill="#6e8c9f" stroke="#17212a" stroke-width="1.2"/>
<path fill="none" stroke="#e3ebf0" stroke-width="1.3" d="M685,889 C685,882 687,878 690,876"/>
</g>
<!-- 4 screw -->
<g id="p4">
<path class="dl" d="M625,887 L640,895"/>
<path fill="#8aa3b3" stroke="#17212a" stroke-width="1.1" d="M639,893 L653,900 L651,905 L637,898 C635,897 637,893 639,893 Z"/>
<g stroke="#17212a" stroke-width="0.8"><path d="M642,894 L640,899 M645,896 L643,901 M648,897 L646,902"/></g>
<ellipse cx="655.5" cy="903" rx="4.5" ry="5.5" transform="rotate(-25 655.5 903)" fill="#b6c7d1" stroke="#17212a" stroke-width="1.2"/>
</g>
<!-- 26 -->
<g id="p26">
<path fill="none" stroke="#17212a" stroke-width="1" stroke-dasharray="10 2 3 2" d="M597,858 L567.7,842.6 V903 L539,888.5"/>
<path class="o" fill="#7096ab" d="M552.7,833 C555,832 557,834 556.8,836 L561.6,867.6 L558.4,875.6 L526,894 C523,894 523,891 524.5,891 L528.5,871.6 L523.7,862.7 L534,864.4 C540,862 544,858 545.5,855.5 L548.7,836 C549,834 551,833 552.7,833 Z"/>
<path fill="#e4ecf0" d="M549,851 L556,855 L555,858 L548,854 Z M532,887 L540,891 L539,894 L531,890 Z"/>
</g>
<!-- 5 wire -->
<g id="p5">
<path fill="none" stroke="#17212a" stroke-width="4.2" stroke-linecap="round" d="M500,929 C505,918 513,911 524.5,911 C538,912 548,928 553,948"/>
<path fill="none" stroke="#9fb4c2" stroke-width="2" stroke-linecap="round" d="M500,929 C505,918 513,911 524.5,911 C538,912 548,928 553,948"/>
<path fill="#8aa3b3" stroke="#17212a" stroke-width="1.1" d="M497,925 L502,926 L503,937 C503,939 500,939 499.5,937 L499,928 Z"/>
<path fill="#8aa3b3" stroke="#17212a" stroke-width="1.1" d="M545,941 L551,939 L555,952 L553,956 L547,951 Z"/>
</g>
<!-- 15 plate -->
<g id="p15">
<path class="o" fill="#a6bac7" stroke-width="1.6" d="M381.7,1049.3 C383,1047 386,1046.5 388.6,1047 L399,1051.6 L406,1054 L409.5,1063.2 L413,1070 L420,1073.6 L430.4,1073.6 L440.8,1072.5 L446.6,1078.3 L447.7,1081.7 L457,1088.7 C459,1090 460,1092 459.3,1093.3 C458.5,1096 457,1097 455.9,1096.8 L445.4,1094.5 C442,1094 440,1096 440.8,1098 C441,1101 442,1103 443,1103.8 L459.3,1111.9 C461.5,1113 463,1115 462.8,1116.5 L457,1149 C456,1151 454,1152 452.4,1151.3 L436,1142 C433,1141 431,1142 431.5,1144.3 C431.5,1146 432,1148 432.7,1149 L443.1,1159.4 C445,1162 445.5,1166 444.3,1168.7 C443,1171 440.5,1172.5 438.5,1172.2 L410.6,1156 L403.7,1157.1 L392.1,1149 L392.1,1142 L386.3,1139.7 L366.6,1129.3 C364,1128 362.5,1125 363.1,1123.5 C364,1121 365,1120 366.6,1120 L378.2,1122.3 C381,1122 383,1120 382.8,1118.8 C382.5,1116 381.5,1115 380.5,1114.2 L365.4,1106 C363,1104 361.5,1101 362,1099 L370,1066.7 C371,1065 373,1064 374.7,1064.3 L391,1072.5 C393,1073 394.5,1071 394.4,1069 C394,1066 393,1063 392.1,1062 L381.7,1056.2 C380,1054 380,1051 381.7,1049.3 Z"/>
<path fill="#8ea7b6" d="M370,1066.7 C371,1065 373,1064 374.7,1064.3 L391,1072.5 L386,1088 L380,1104 L365.4,1106 C363,1104 361.5,1101 362,1099 Z"/>
<path fill="#93abba" d="M381.7,1049.3 C383,1047 386,1046.5 388.6,1047 L399,1051.6 L394,1062 L381.7,1056.2 C380,1054 380,1051 381.7,1049.3 Z"/>
<g fill="#ffffff" stroke="#17212a" stroke-width="1.4">
<rect x="377.5" y="1081" width="17.5" height="6" rx="3" transform="rotate(28 386.3 1084)"/>
<rect x="373.5" y="1099.6" width="17.5" height="6" rx="3" transform="rotate(28 382.2 1102.6)"/>
<rect x="431.5" y="1111.8" width="17.5" height="6" rx="3" transform="rotate(28 440.2 1114.8)"/>
<rect x="428.5" y="1129.7" width="17.5" height="6" rx="3" transform="rotate(28 437.3 1132.7)"/>
</g>
<g fill="#2d4150"><rect x="373.5" y="1085" width="2.6" height="3.2"/><rect x="383" y="1091" width="2.6" height="3.2"/><rect x="439" y="1123.5" width="2.6" height="3.2"/><rect x="448.8" y="1128" width="2.6" height="3.2"/></g>
<!-- center block -->
<path fill="#b7c8d2" stroke="#17212a" stroke-width="0.9" d="M402,1078 L413,1072 L430,1073.6 L431,1084 L428,1120 L421,1130 L406,1126 C400,1118 398,1100 402,1078 Z"/>
<path fill="#7894a6" stroke="#17212a" stroke-width="0.9" d="M419,1074 L430.4,1073.6 L431,1084 L428,1095 L425,1125 L415,1131 L417,1100 L420,1092 L417,1088 Z"/>
<path fill="#d9e4ea" d="M419,1092 L431,1092 L429,1098 L420,1098 Z M404,1080 L412,1076 L411,1087 L403,1090 Z"/>
<path fill="none" stroke="#17212a" stroke-width="0.9" d="M404,1110 C400,1104 403,1098 409,1098 C414,1099 415,1104 412,1108 M408,1102 L408,1121 M404,1107 L412,1104"/>
<path fill="#b3c5d0" stroke="#17212a" stroke-width="0.8" d="M392,1124 L422,1130 L423,1139 L392,1134 Z"/>
<path fill="#7590a3" stroke="#17212a" stroke-width="0.8" d="M409,1130 L419,1131 L414,1157 L405,1156 Z"/>
<ellipse cx="400" cy="1146" rx="2" ry="3.2" fill="#ffffff" stroke="#17212a" stroke-width="0.7"/>
</g>
<!-- 11 wire mesh -->
<g id="p11" fill="none" stroke-linecap="round">
<g stroke="#17212a" stroke-width="3.3">
<path d="M390.6,968.3 L487.3,1022.7 M387.5,980.4 L484.3,1034.8 M384.5,991.5 L481.3,1046.9 M381.5,1004.6 L478.3,1059 M378.5,1016.7 L476.3,1071"/>
<path d="M393.6,939 L372,1033 C370,1038 372,1041 376,1039 L385,1028"/>
<path d="M445,967.3 L418.8,1075"/>
<path d="M495.4,997.5 L472,1094 C470,1098 467,1096 466,1093 L465,1077"/>
</g>
<g stroke="#8fb0c1" stroke-width="1.0">
<path d="M390.6,968.3 L487.3,1022.7 M387.5,980.4 L484.3,1034.8 M384.5,991.5 L481.3,1046.9 M381.5,1004.6 L478.3,1059 M378.5,1016.7 L476.3,1071"/>
<path d="M393.6,939 L372,1033 C370,1038 372,1041 376,1039 L385,1028"/>
<path d="M445,967.3 L418.8,1075"/>
<path d="M495.4,997.5 L472,1094 C470,1098 467,1096 466,1093 L465,1077"/>
</g>
<path stroke="#17212a" stroke-width="2" d="M380.5,1034.8 L469.2,1079"/>
<path stroke="#17212a" stroke-width="4.6" d="M392.6,954.2 L490.4,1007.6"/>
<path stroke="#5a7a8c" stroke-width="1.6" d="M392.6,954.2 L490.4,1007.6"/>
<g fill="#9fb4c2" stroke="#17212a" stroke-width="1"><path d="M401,1041 L406,1040 L408,1050 L402,1051 Z"/><path d="M440,1062 L445,1061 L447,1071 L441,1072 Z"/></g>
</g>

<!--LABELS-->
<g id="labels">
<text class="t" x="613.6" y="283.0">3</text>
<text class="t" x="625.2" y="283.0">6</text>
<text class="t" x="440.0" y="337.0">5</text>
<text class="t" x="451.6" y="337.0">2</text>
<text class="t" x="483.0" y="359.5">5</text>
<path class="one" d="M500.2,359.5 V347.9 C499.2,348.9 498.1,349.5 496.8,349.9 V347.8 C498.8,347.1 500.6,345.7 501.2,344.1 H502.5 V359.5 Z"/>
<text class="t" x="397.0" y="362.0">4</text>
<text class="t" x="408.6" y="362.0">4</text>
<text class="t" x="440.3" y="383.5">5</text>
<text class="t" x="451.9" y="383.5">0</text>
<text class="t" x="468.0" y="466.0">4</text>
<text class="t" x="479.6" y="466.0">0</text>
<text class="t" x="542.5" y="481.2">3</text>
<text class="t" x="554.1" y="481.2">0</text>
<path class="one" d="M504.1,576.0 V564.4 C503.1,565.4 502.0,566.0 500.7,566.4 V564.3 C502.7,563.6 504.5,562.2 505.1,560.6 H506.4 V576.0 Z"/>
<text class="t" x="569.6" y="652.5">3</text>
<path class="one" d="M586.8,652.5 V640.9 C585.8,641.9 584.7,642.5 583.4,642.9 V640.8 C585.4,640.1 587.2,638.7 587.8,637.1 H589.1 V652.5 Z"/>
<text class="t" x="182.4" y="687.6">4</text>
<text class="t" x="194.0" y="687.6">3</text>
<text class="t" x="830.9" y="730.5">6</text>
<text class="t" x="822.0" y="824.2">8</text>
<text class="t" x="369.0" y="831.1">2</text>
<text class="t" x="380.6" y="831.1">7</text>
<text class="t" x="419.3" y="839.2">2</text>
<text class="t" x="430.9" y="839.2">5</text>
<text class="t" x="752.5" y="838.3">2</text>
<text class="t" x="764.1" y="838.3">3</text>
<text class="t" x="478.0" y="878.5">2</text>
<text class="t" x="489.6" y="878.5">6</text>
<text class="t" x="645.9" y="944.7">4</text>
<text class="t" x="683.5" y="938.5">2</text>
<text class="t" x="695.1" y="938.5">0</text>
<text class="t" x="549.3" y="997.1">5</text>
<path class="one" d="M336.6,997.5 V985.9 C335.6,986.9 334.5,987.5 333.2,987.9 V985.8 C335.2,985.1 337.0,983.7 337.6,982.1 H338.9 V997.5 Z"/>
<path class="one" d="M348.2,997.5 V985.9 C347.2,986.9 346.1,987.5 344.8,987.9 V985.8 C346.8,985.1 348.6,983.7 349.2,982.1 H350.5 V997.5 Z"/>
<path class="one" d="M395.2,1196.2 V1184.6 C394.2,1185.6 393.1,1186.2 391.8,1186.6 V1184.5 C393.8,1183.8 395.6,1182.4 396.2,1180.8 H397.5 V1196.2 Z"/>
<text class="t" x="401.2" y="1196.2">5</text>
</g>
<g id="leaders" class="ld">
<path d="M625 288V313"/>
<path d="M303 331H432"/>
<path d="M460 311.5L469.5 320V346L478.5 354.5L469.5 363V388L460 397"/>
<path d="M368 355H392.5"/>
<path d="M418 336.5L428 345.5V370.5L437.5 379L428 388V413L418 422"/>
<path d="M382 416.5L395.5 403H420.5"/>
<path d="M437.5 460.5H462.5"/>
<path d="M568.5 475H592"/>
<path d="M515 570H539"/>
<path d="M581 609V634.5"/>
<path d="M192.5 646V668.5"/>
<path d="M801 722.7H827"/>
<path d="M826.4 783V806"/>
<path d="M381.3 788V812"/>
<path d="M430.3 797V819.5"/>
<path d="M720.6 833.6H746.8"/>
<path d="M506.5 872H528.5"/>
<path d="M649.8 905V926"/>
<path d="M693 898V919.5"/>
<path d="M555.2 954V979"/>
<path d="M357.3 989H379.5"/>
<path d="M403.7 1152V1178"/>
</g>
<rect x="0" y="1401" width="992" height="1" fill="#1b2228"/>
<rect x="0" y="1400" width="32" height="3" fill="#1b2228"/>
</svg>
</body></html>
